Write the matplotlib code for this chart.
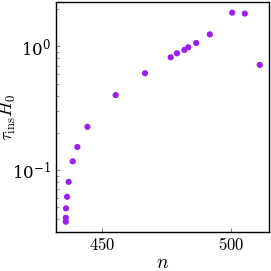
import numpy as np
import matplotlib.pyplot as plt

plt.rcParams['mathtext.fontset'] = 'cm'
plt.rcParams['font.family'] = 'serif'
plt.rcParams['font.serif'] = ['DejaVu Serif']

# data
n = [435.8, 435.8, 435.9, 436.3, 436.9, 438.5, 440.3, 444.2, 455.2, 466.6,
     476.6, 479.0, 481.9, 483.4, 486.5, 491.8, 500.5, 505.4, 511.2]
tau = [0.0384, 0.0413, 0.0492, 0.061, 0.0805, 0.118, 0.154, 0.224, 0.404, 0.607,
       0.816, 0.879, 0.935, 0.982, 1.064, 1.25, 1.87, 1.84, 0.708]

fig = plt.figure(figsize=(2.71, 2.71), dpi=100)
ax = fig.add_axes([56/271, 39/271, 213/271, 230/271])
ax.scatter(n, tau, s=20, color='#9a1ff0', edgecolors='none', zorder=3)
ax.set_yscale('log')
ax.set_xlim(432, 514.8)
ax.set_ylim(0.0317, 2.28)
ax.set_xticks([450, 500])
ax.set_xticklabels([r'$450$', r'$500$'])
ax.tick_params(labelsize=12, direction='in', length=3, color='#888888')
ax.tick_params(which='minor', direction='in', length=2, color='#888888')
ax.set_xlabel(r'$n$', fontsize=14)
ax.set_ylabel(r'$\tau_{\rm ins}H_0$', fontsize=13)
ax.xaxis.set_label_coords(0.5, -0.095)
ax.yaxis.set_label_coords(-0.18, 0.5)
for sp in ax.spines.values():
    sp.set_linewidth(1.0)

fig.savefig('out.png', dpi=100)
